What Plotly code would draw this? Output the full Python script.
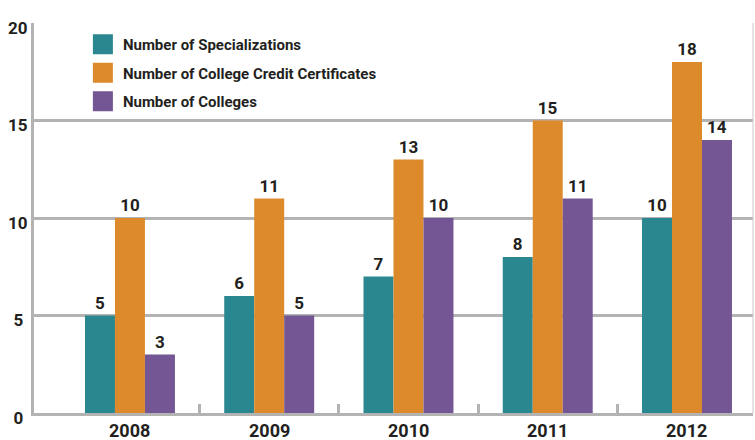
import plotly.graph_objects as go

years = ["2008", "2009", "2010", "2011", "2012"]
series_names = ["Number of Specializations", "Number of College Credit Certificates", "Number of Colleges"]
specializations = [5, 6, 7, 8, 10]
certificates = [10, 11, 13, 15, 18]
colleges = [3, 5, 10, 11, 14]
y_ticks = [0, 5, 10, 15, 20]

colors = ["#2a878f", "#dd8a2c", "#735693"]
FONT = "Roboto, Arial, sans-serif"
TXT = "#231f20"
GRID = "#b3b3b3"

xpos = list(range(len(years)))
fig = go.Figure()
for name, vals, col in zip(series_names, [specializations, certificates, colleges], colors):
    fig.add_trace(go.Bar(
        x=xpos, y=vals, name=name, marker=dict(color=col, line=dict(width=0)),
        text=vals, texttemplate="<b>%{text}</b>", textposition="outside",
        textfont=dict(family=FONT, size=17, color=TXT), cliponaxis=False,
        showlegend=False, hoverinfo="skip",
    ))
    fig.add_trace(go.Scatter(
        x=[None], y=[None], mode="markers", name=name,
        marker=dict(symbol="square", size=16, color=col, line=dict(color=col, width=4)),
        legendgroup=name, showlegend=True,
    ))

y_text = ["<b>%d</b>" % v if v >= 10 else "<b>%d</b>\u2005" % v for v in y_ticks]

# category labels under each group, anchored to the category positions
year_labels = [dict(x=xp, y=0, xref="x", yref="paper", text="<b>%s</b>" % yr,
                    showarrow=False, yanchor="middle", xanchor="center", yshift=-17,
                    font=dict(family=FONT, size=18, color=TXT))
               for xp, yr in zip(xpos, years)]

fig.update_layout(
    width=755, height=440,
    margin=dict(l=34, r=2, t=23, b=27),
    paper_bgcolor="white", plot_bgcolor="white",
    barmode="group", bargap=0.354, bargroupgap=0,
    font=dict(family=FONT, color=TXT),
    legend=dict(
        x=0.068, y=0.987, xanchor="left", yanchor="top",
        bgcolor="rgba(0,0,0,0)", traceorder="grouped", tracegroupgap=6,
        font=dict(family=FONT, size=15, color=TXT, weight="bold"),
        itemwidth=30,
    ),
    xaxis=dict(
        range=[-0.689, 4.474], tickvals=xpos, showticklabels=False,
        ticks="", showgrid=False,
        showline=True, linecolor=GRID, linewidth=3, zeroline=False, automargin=False,
        minor=dict(tickvals=[0.5, 1.5, 2.5, 3.5], ticks="inside", ticklen=9,
                   tickwidth=3, tickcolor=GRID, showgrid=False),
    ),
    yaxis=dict(
        range=[0, 20], tickvals=y_ticks, ticktext=y_text,
        tickfont=dict(family=FONT, size=17, color=TXT), ticks="",
        showgrid=True, gridcolor=GRID, gridwidth=3, automargin=False,
        showline=True, linecolor=GRID, linewidth=3, zeroline=False,
        ticklabelstandoff=0, ticklabelshift=5,
    ),
    annotations=year_labels,
    shapes=[dict(type="line", xref="paper", yref="paper", x0=1, x1=1, y0=0, y1=1,
                 line=dict(color="#c8c8c8", width=1))],
)

fig.write_html("out.html", config={"displayModeBar": False},
               post_script="document.body.style.margin='0';")
